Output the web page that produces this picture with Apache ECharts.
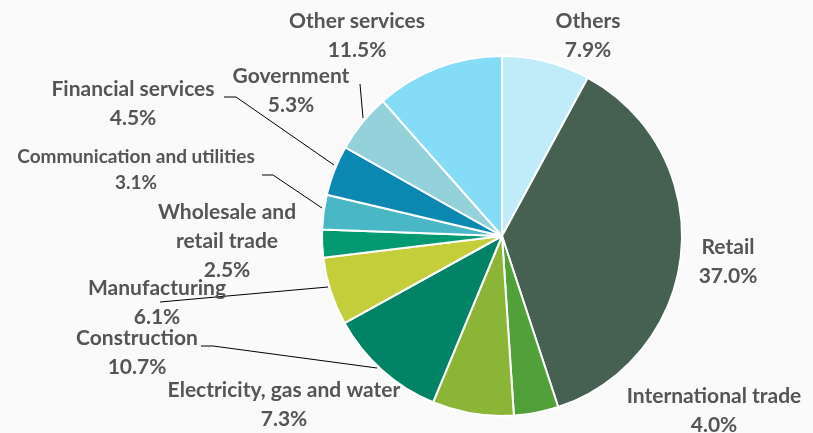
<!DOCTYPE html>
<html><head><meta charset="utf-8">
<script src="https://cdn.jsdelivr.net/npm/echarts@6/dist/echarts.min.js"></script>
<style>html,body{margin:0;padding:0;background:#fafafa}#c{width:813px;height:433px}</style>
</head><body><div id="c"></div>
<script>
const categories = ['Others','Retail','International trade','Electricity, gas and water','Construction','Manufacturing','Wholesale and\nretail trade','Communication and utilities','Financial services','Government','Other services'];
const shares = [7.9, 37.0, 4.0, 7.3, 10.7, 6.1, 2.5, 3.1, 4.5, 5.3, 11.5];
const colors = ['#c0ecfa','#466052','#52a03a','#8bb536','#018366','#c3ce3a','#039a72','#4ab7c6','#0b88b2','#93d2da','#85dcf6'];
// label placement (text centre) and leader lines
const labelPos = [[588,36],[728,262],[714,411],[284,405],[137,353],[157,303],[227,241],[136,170],[133,104],[291,91],[357,36]];
const labelSizes = [21,21,21,21,21,21,21,19,21,21,21];
const leaderLines = [null,null,null,null,
  [[201,346],[213,346],[377,368]],
  [[160,302],[328,287]],
  null,
  [[262,175],[273,175],[322,208]],
  [[224,97],[236,97],[334,165]],
  [[360,84],[363,118]],
  null];
const chart = echarts.init(document.getElementById('c'));
chart.setOption({
  backgroundColor:'#fafafa',
  animation:false,
  series:[{
    type:'pie',
    center:[502,236],
    radius:[0,180],
    startAngle:90,
    clockwise:true,
    itemStyle:{borderColor:'#fff',borderWidth:2},
    label:{
      show:true,
      formatter:p=>p.name+'\n'+p.value.toFixed(1)+'%',
      fontFamily:'Lato',fontWeight:'bold',fontSize:21,color:'#555555',lineHeight:29,align:'center'
    },
    labelLine:{show:true,lineStyle:{color:'#000',width:1}},
    labelLayout:function(params){
      const i=params.dataIndex;
      const r={x:labelPos[i][0],y:labelPos[i][1],align:'center',verticalAlign:'middle'};
      if(leaderLines[i]) r.labelLinePoints=leaderLines[i];
      return r;
    },
    data:categories.map((c,i)=>({name:c,value:shares[i],itemStyle:{color:colors[i]},
      label:{fontSize:labelSizes[i],lineHeight:labelSizes[i]<21?26:29},
      labelLine:{show:!!leaderLines[i]}}))
  }]
});
</script></body></html>
